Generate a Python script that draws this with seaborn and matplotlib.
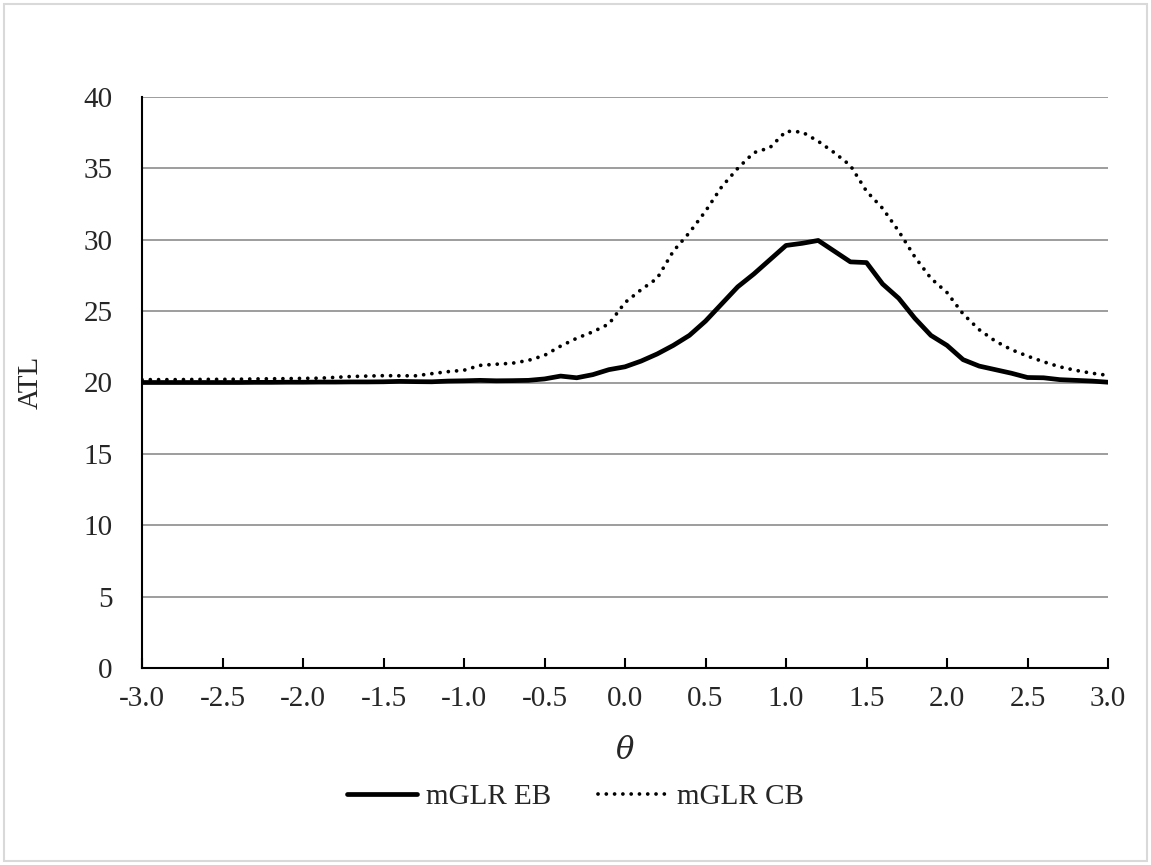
import numpy as np
import pandas as pd
import matplotlib
matplotlib.use("Agg")
import matplotlib.pyplot as plt
import seaborn as sns
from matplotlib.patches import Rectangle

theta = [round(-3.0 + 0.1 * i, 1) for i in range(61)]

eb = [20.00, 20.00, 20.00, 20.00, 20.00, 20.00, 20.00, 20.01, 20.01, 20.02,
      20.02, 20.03, 20.03, 20.04, 20.04, 20.05, 20.08, 20.06, 20.05, 20.10,
      20.12, 20.15, 20.12, 20.13, 20.15, 20.25, 20.45, 20.33, 20.55, 20.90,
      21.10, 21.50, 22.00, 22.60, 23.30, 24.30, 25.50, 26.70, 27.60, 28.60,
      29.60, 29.75, 29.95, 29.20, 28.45, 28.40, 26.90, 25.90, 24.50, 23.30,
      22.60, 21.60, 21.15, 20.90, 20.65, 20.35, 20.33, 20.20, 20.15, 20.10,
      20.02]

cb = [20.20, 20.20, 20.20, 20.21, 20.22, 20.22, 20.23, 20.25, 20.26, 20.27,
      20.29, 20.30, 20.36, 20.42, 20.45, 20.48, 20.47, 20.47, 20.62, 20.76,
      20.86, 21.20, 21.28, 21.35, 21.55, 21.90, 22.55, 23.10, 23.55, 24.10,
      25.60, 26.50, 27.30, 29.20, 30.50, 32.00, 33.70, 35.00, 36.10, 36.45,
      37.60, 37.55, 36.90, 36.10, 35.20, 33.40, 32.20, 30.60, 28.80, 27.30,
      26.30, 24.80, 23.70, 22.90, 22.30, 21.85, 21.45, 21.10, 20.85, 20.65,
      20.50]

series_names = ["mGLR EB", "mGLR CB"]
x_ticks = [-3.0, -2.5, -2.0, -1.5, -1.0, -0.5, 0.0, 0.5, 1.0, 1.5, 2.0, 2.5, 3.0]
y_ticks = [0, 5, 10, 15, 20, 25, 30, 35, 40]

sns.set_theme(style="white")
plt.rcParams['font.family'] = ['Liberation Serif', 'DejaVu Serif']
plt.rcParams['mathtext.fontset'] = 'dejavuserif'

fig = plt.figure(figsize=(11.51, 8.65), dpi=100)
ax = fig.add_axes([142/1151, 1 - 668/865, (1108-142)/1151, (668-97)/865])

df = pd.DataFrame({"theta": theta, "EB": eb, "CB": cb})

sns.lineplot(data=df, x="theta", y="EB", ax=ax, color="black", linewidth=3.4,
             label=series_names[0], solid_capstyle="round", solid_joinstyle="round")
sns.lineplot(data=df, x="theta", y="CB", ax=ax, color="black", linewidth=2.7,
             label=series_names[1])
ax.lines[1].set_dashes([0.01, 2.2])
ax.lines[1].set_dash_capstyle("round")

ax.set_xlim(-3.0, 3.0)
ax.set_ylim(0, 40)
ax.set_xticks(x_ticks)
ax.set_xticklabels([f"{v:.1f}" for v in x_ticks])
ax.set_yticks(y_ticks)
ax.set_yticklabels([str(v) for v in y_ticks])

ax.yaxis.grid(True, color="#8c8c8c", linewidth=1.2)
ax.xaxis.grid(False)
ax.set_axisbelow(True)
for s in ["top", "right"]:
    ax.spines[s].set_visible(False)
for s in ["left", "bottom"]:
    ax.spines[s].set_visible(True)
    ax.spines[s].set_color("black")
    ax.spines[s].set_linewidth(1.5)

ax.tick_params(axis="x", direction="in", length=7, width=1.5, color="black",
               labelsize=21, pad=13, bottom=True)
ax.tick_params(axis="y", length=0, labelsize=21, pad=21, left=False)

ax.set_xlabel(r"$\theta$", fontsize=22, labelpad=18)
ax.set_ylabel("ATL", fontsize=21, labelpad=29)

ax.get_legend().remove()
handles = ax.lines[:2]
fig.legend(handles, series_names, loc="center", bbox_to_anchor=(0.5, 1 - 797/865),
           ncol=2, frameon=False, fontsize=21, handlelength=2.4,
           columnspacing=1.6, handletextpad=0.3)

fig.patches.append(Rectangle((4/1151, 4/865), 1 - 8/1151, 1 - 8/865,
                             transform=fig.transFigure, fill=False,
                             edgecolor="#d9d9d9", linewidth=1.5))

fig.savefig("out.png", dpi=100, facecolor="white")
